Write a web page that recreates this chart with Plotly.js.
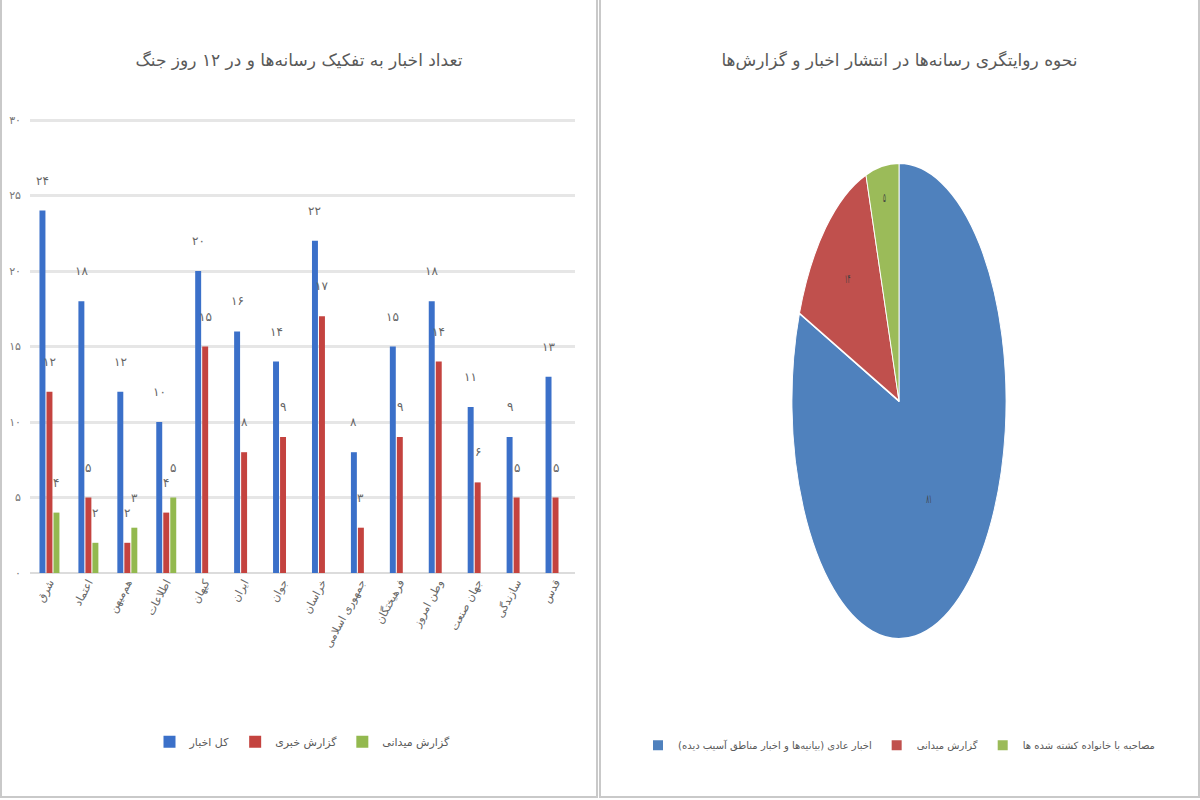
<!DOCTYPE html>
<html>
<head>
<meta charset="utf-8">
<script src="https://cdn.plot.ly/plotly-3.0.1.min.js"></script>
<style>
  body { margin: 0; background: #fff; width: 1200px; height: 800px; overflow: hidden; }
  .panel { position: absolute; top: 0; height: 796px; border: 2px solid #c9c9c9; border-top: none; box-sizing: content-box; }
  #bars { left: 0; width: 594px; }
  #pie { left: 599px; width: 597px; }
</style>
</head>
<body>
<div id="bars" class="panel"></div>
<div id="pie" class="panel"></div>
<script>
// bar chart data (left)
var categories = ["شرق", "اعتماد", "هم‌میهن", "اطلاعات", "کیهان", "ایران", "جوان",
    "خراسان", "جمهوری اسلامی", "فرهیختگان", "وطن امروز", "جهان صنعت", "سازندگی", "قدس"];
var totalNews = [24, 18, 12, 10, 20, 16, 14, 22, 8, 15, 18, 11, 9, 13];
var newsReports = [12, 5, 2, 4, 15, 8, 9, 17, 3, 9, 14, 6, 5, 5];
var fieldReports = [4, 2, 3, 5, null, null, null, null, null, null, null, null, null, null];
var seriesNames = ["کل اخبار", "گزارش خبری", "گزارش میدانی"];
var yTickVals = [0, 5, 10, 15, 20, 25, 30];
var yTickText = ["۰", "۵", "۱۰", "۱۵", "۲۰", "۲۵", "۳۰"];

// pie chart data (right)
var pieLabels = ["اخبار عادی (بیانیه‌ها و اخبار مناطق آسیب دیده)", "گزارش میدانی", "مصاحبه با خانواده کشته شده ها"];
var pieValues = [81, 14, 5];

var barColors = ["#3b70c9", "#c4433f", "#93b94f"];
var pieColors = ["#4f81bd", "#c0504d", "#9bbb59"];
var FONT = "DejaVu Sans, Noto Sans, sans-serif";

function toFa(n) {
    return String(n).replace(/\d/g, function (d) { return "۰۱۲۳۴۵۶۷۸۹"[d]; });
}

var series = [totalNews, newsReports, fieldReports];
var shifts = [-7, 0, 7];
var barTraces = [];
var labels = [];
for (let s = 0; s < series.length; s++) {
    barTraces.push({
        type: "bar",
        x: categories,
        y: series[s],
        name: seriesNames[s],
        marker: { color: barColors[s] },
        hoverinfo: "y",
    });
    for (let i = 0; i < categories.length; i++) {
        const v = series[s][i];
        if (v == null) continue;
        labels.push({
            x: categories[i],
            y: v,
            text: toFa(v),
            xshift: shifts[s],
            yshift: 30,
            showarrow: false,
            font: { family: FONT, size: 12, color: "#666" },
        });
    }
}

var barLayout = {
    width: 594,
    height: 796,
    margin: { l: 28, r: 21, t: 117, b: 223 },
    paper_bgcolor: "#fff",
    plot_bgcolor: "#fff",
    font: { family: FONT, color: "#595959" },
    title: {
        text: "تعداد اخبار به تفکیک رسانه‌ها و در ۱۲ روز جنگ",
        font: { family: FONT, size: 17, color: "#595959" },
        x: 0.5, xanchor: "center", y: 0.925, yanchor: "middle",
    },
    barmode: "group",
    bargap: 0.46,
    bargroupgap: 0.15,
    xaxis: {
        type: "category",
        tickangle: -62,
        tickfont: { family: FONT, size: 11, color: "#666" },
        showgrid: false,
        showline: false,
        ticks: "",
    },
    yaxis: {
        range: [0, 30.2],
        tickvals: yTickVals,
        ticktext: yTickText,
        tickfont: { family: FONT, size: 11, color: "#777" },
        gridcolor: "#e6e6e6",
        gridwidth: 3,
        zeroline: true,
        zerolinecolor: "#dcdcdc",
        zerolinewidth: 2,
        ticklabelstandoff: 8,
    },
    annotations: labels,
    showlegend: true,
    legend: {
        orientation: "h",
        x: 0.5, xanchor: "center",
        y: -0.37, yanchor: "middle",
        itemwidth: 30,
        font: { family: FONT, size: 11, color: "#595959" },
    },
};

Plotly.newPlot("bars", barTraces, barLayout, { displayModeBar: false });

var pieTrace = {
    type: "pie",
    labels: pieLabels,
    values: pieValues,
    text: pieValues.map(toFa),
    textinfo: "text",
    textposition: "inside",
    insidetextorientation: "horizontal",
    textfont: { family: FONT, size: 12, color: "#404040" },
    sort: false,
    direction: "clockwise",
    rotation: 0,
    marker: { colors: pieColors, line: { color: "#fff", width: 2 } },
    domain: { x: [0.087, 0.913], y: [0, 1] },
    hoverinfo: "label+value",
};

var pieLayout = {
    width: 597,
    height: 796,
    margin: { l: 10, r: 11, t: 163, b: 157 },
    paper_bgcolor: "#fff",
    font: { family: FONT, color: "#595959" },
    title: {
        text: "نحوه روایتگری رسانه‌ها در انتشار اخبار و گزارش‌ها",
        font: { family: FONT, size: 17, color: "#595959" },
        x: 0.5, xanchor: "center", y: 0.925, yanchor: "middle",
    },
    showlegend: true,
    legend: {
        orientation: "h",
        x: 0.5, xanchor: "center",
        y: -0.223, yanchor: "middle",
        itemwidth: 30,
        font: { family: FONT, size: 10, color: "#595959" },
    },
};

Plotly.newPlot("pie", [pieTrace], pieLayout, { displayModeBar: false }).then(function (gd) {
    // squeeze the pie horizontally into the tall ellipse of the original
    var layer = gd.querySelector(".pielayer");
    var cx = 10 + (597 - 10 - 11) / 2;
    layer.setAttribute("transform", "translate(" + cx + ",0) scale(0.45,1) translate(" + -cx + ",0)");
});
</script>
</body>
</html>
